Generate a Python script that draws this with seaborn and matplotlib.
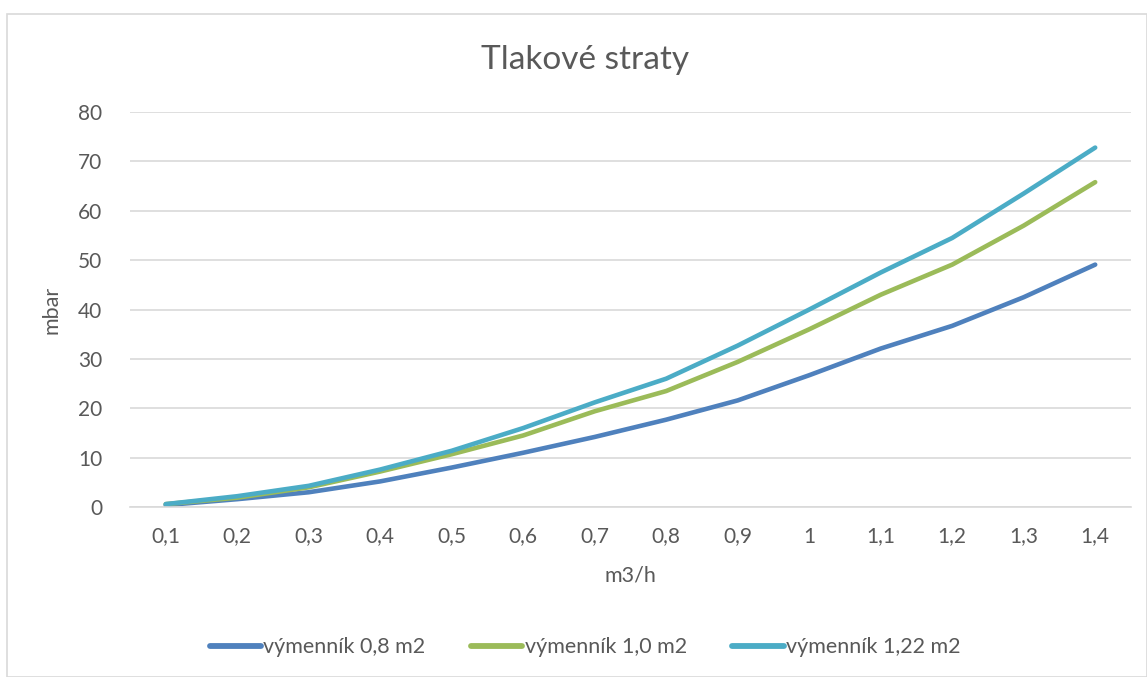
import pandas as pd
import seaborn as sns
import matplotlib.pyplot as plt
from matplotlib.patches import Rectangle

# data
flow = ["0,1", "0,2", "0,3", "0,4", "0,5", "0,6", "0,7",
        "0,8", "0,9", "1", "1,1", "1,2", "1,3", "1,4"]
loss_08 = [0.4, 1.6, 3.0, 5.2, 8.0, 11.0, 14.2, 17.7, 21.6, 26.7, 32.1, 36.7, 42.5, 49.1]
loss_10 = [0.6, 1.9, 4.0, 7.2, 10.7, 14.5, 19.4, 23.5, 29.4, 36.0, 43.0, 49.1, 57.0, 65.8]
loss_122 = [0.6, 2.2, 4.3, 7.6, 11.4, 16.0, 21.2, 26.0, 32.7, 40.0, 47.5, 54.5, 63.5, 72.8]
series_names = ["výmenník 0,8 m2", "výmenník 1,0 m2", "výmenník 1,22 m2"]
colors = ["#4F81BD", "#9BBB59", "#4BACC6"]

df = pd.concat([
    pd.DataFrame({"flow": flow, "mbar": vals, "series": name})
    for name, vals in zip(series_names, [loss_08, loss_10, loss_122])
])

sns.set_theme(style="white")
plt.rcParams["font.family"] = ["Lato", "DejaVu Sans"]
txt = "#595959"

fig = plt.figure(figsize=(11.47, 6.77), dpi=100)
ax = fig.add_axes([0.1133, 0.251, 0.8727, 0.5835])

sns.lineplot(data=df, x="flow", y="mbar", hue="series", palette=colors,
             linewidth=3.3, sort=False, ax=ax, solid_capstyle="round")

ax.set_xlim(-0.5, len(flow) - 0.5)
ax.set_ylim(0, 80)
ax.set_yticks(range(0, 81, 10))
ax.yaxis.grid(True, color="#D9D9D9", linewidth=1.2)
ax.set_axisbelow(True)
for s in ["left", "right", "top"]:
    ax.spines[s].set_visible(False)
ax.spines["bottom"].set_color("#D9D9D9")
ax.spines["bottom"].set_linewidth(1.2)
ax.tick_params(axis="x", length=0, labelsize=15, colors=txt, pad=14)
ax.tick_params(axis="y", length=0, labelsize=15, colors=txt, pad=20)

ax.set_xlabel("m3/h", fontsize=15.5, color=txt, labelpad=14)
ax.set_ylabel("mbar", fontsize=15.5, color=txt, labelpad=12)
fig.text(0.51, 0.912, "Tlakové straty", ha="center", va="center",
         fontsize=24, color=txt)

leg = ax.legend(loc="center", bbox_to_anchor=(0.51, 0.044), bbox_transform=fig.transFigure,
                ncol=3, frameon=False, fontsize=15.5, handlelength=2.4,
                handletextpad=0.1, columnspacing=2.1, labelcolor=txt)
for h in leg.get_lines():
    h.set_linewidth(4.2)

fig.patches.append(Rectangle((0.006, 0.0), 0.994, 0.98, transform=fig.transFigure,
                             fill=False, edgecolor="#D9D9D9", linewidth=1.2))

fig.savefig("out.png", dpi=100)
